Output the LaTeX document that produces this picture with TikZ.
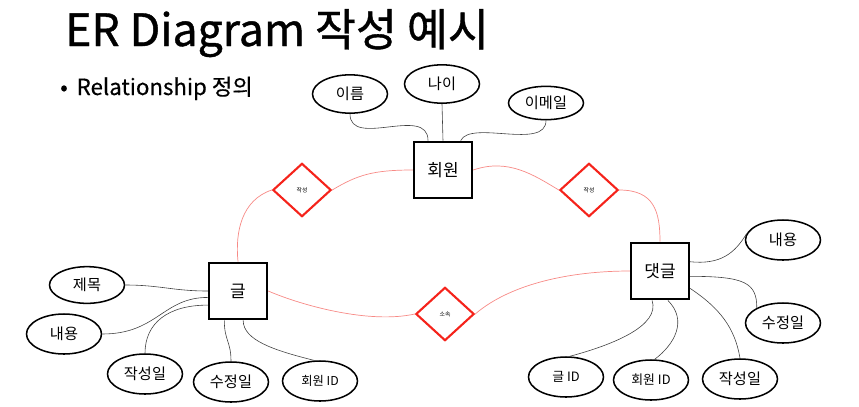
\documentclass[tikz,border=0pt]{standalone}
\usepackage{fontspec}
\setmainfont{Noto Sans CJK KR}
\newfontfamily\headfont[FakeBold=0.9]{Noto Sans CJK KR}
\newfontfamily\subfont[FakeBold=0.4]{Noto Sans CJK KR}
\usetikzlibrary{shapes.geometric}
\definecolor{rRed}{HTML}{F5231B}
\definecolor{rLine}{HTML}{F78A86}

\begin{document}
\begin{tikzpicture}[x=0.03cm, y=-0.03cm,
      attr/.style={draw, ellipse, line width=1.3pt, minimum width=22.5mm,
                   minimum height=12mm, inner sep=0pt, font=\fontsize{13}{15}\selectfont},
      ent/.style={draw, line width=1.8pt, minimum width=17.5mm, minimum height=17mm,
                  inner sep=0pt, font=\fontsize{14.5}{16}\selectfont},
      rel/.style={draw=rRed, diamond, line width=1.8pt, minimum width=17.5mm,
                  minimum height=16mm, inner sep=0pt, font=\fontsize{5}{6}\selectfont},
      lk/.style={black!75, line width=0.5pt},
      rlk/.style={rLine, line width=0.6pt}]
    \useasboundingbox (0,0) rectangle (859,406);
    % title
    \node[anchor=base west, inner sep=0pt, font=\headfont\fontsize{38}{44}\selectfont] (ttl) at (65,46) {ER Diagram 작성 예시};
    \node[anchor=base west, inner sep=0pt, font=\subfont\fontsize{19}{22}\selectfont] (sub) at (60,95) {•\hspace{0.4em}Relationship 정의};
    % entities
    \node[ent] (mem)  at (443,170) {회원};
    \node[ent] (post) at (238,291) {글};
    \node[ent] (rep)  at (660,271) {댓글};
    % relations
    \node[rel] (wl) at (302,190) {작성};
    \node[rel] (wr) at (589,190) {작성};
    \node[rel] (so) at (445,314) {소속};
    % attributes
    \node[attr, minimum height=11.5mm] (nm)  at (350,94)  {이름};
    \node[attr, minimum height=11.5mm] (age) at (442,84)  {나이};
    \node[attr, minimum height=10mm]   (em)  at (546,103) {이메일};
    \node[attr, minimum height=11mm]   (sbj) at (87,285)  {제목};
    \node[attr] (cl)  at (64,334)  {내용};
    \node[attr] (cwl) at (145,374) {작성일};
    \node[attr] (ml)  at (231,382) {수정일};
    \node[attr, font=\fontsize{10.5}{12}\selectfont] (idl) at (320,381) {회원 ID};
    \node[attr] (cr)  at (783,240) {내용};
    \node[attr] (mr)  at (783,323) {수정일};
    \node[attr, font=\fontsize{11}{13}\selectfont] (gid) at (566,377) {글 ID};
    \node[attr, font=\fontsize{11}{13}\selectfont] (idr) at (651,380) {회원 ID};
    \node[attr] (cwr) at (740,379) {작성일};
    % member links
    \draw[lk] (nm.south) .. controls +(0,35) and +(0,-36) .. (mem.117);
    \draw[lk] (age.south) -- (mem.north);
    \draw[lk] (em.south) .. controls +(0,30) and +(10,-21) .. (mem.59);
    % relationship links
    \draw[rlk] (mem.west) .. controls +(-40,0) and +(25,-15) .. (wl.east);
    \draw[rlk] (wl.west) .. controls +(-30,10) and +(-3,-30) .. (post.north);
    \draw[rlk] (mem.east) .. controls +(35,-12) and +(-25,-15) .. (wr.west);
    \draw[rlk] (wr.east) .. controls +(35,0) and +(0,-30) .. (rep.north);
    \draw[rlk] (post.east) .. controls +(35,15) and +(-45,10) .. (so.west);
    \draw[rlk] (so.east) .. controls +(35,-30) and +(-60,0) .. (rep.west);
    % post links
    \draw[lk] (sbj.east) .. controls +(35,0) and +(-35,0) .. (post.west);
    \draw[lk] (cl.east) .. controls +(55,0) and +(-45,0) .. (post.192);
    \draw[lk] (cwl.north) .. controls +(0,-30) and +(-40,0) .. (post.205);
    \draw[lk] (ml.north) .. controls +(0,-20) and +(0,20) .. (post.245);
    \draw[lk] (idl.105) .. controls +(-40,-10) and +(0,20) .. (post.280);
    % reply links
    \draw[lk] (rep.17) .. controls +(30,3) and +(-12,20) .. (cr.170);
    \draw[lk] (rep.350) .. controls +(55,0) and +(0,-25) .. (mr.150);
    \draw[lk] (rep.255) .. controls +(8,25) and +(45,-12) .. (gid.80);
    \draw[lk] (rep.285) .. controls +(20,20) and +(20,-15) .. (idr.80);
    \draw[lk] (rep.330) .. controls +(30,20) and +(-5,-30) .. (cwr.north);
  \end{tikzpicture}
\end{document}
